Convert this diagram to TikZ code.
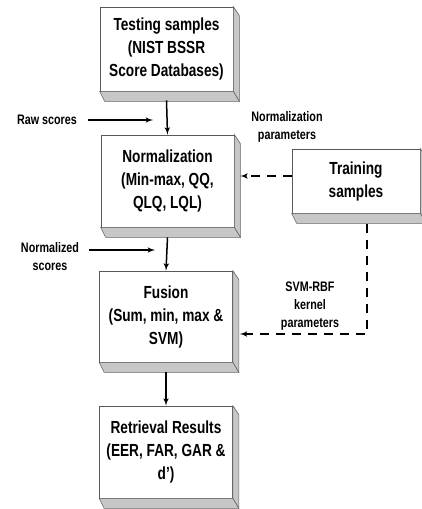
\documentclass[tikz,border=0pt]{standalone}
\usepackage{fontspec}
\setmainfont{Liberation Sans}[FakeStretch=0.78]
\usepackage{tikz}
\usetikzlibrary{arrows}

% grey side faces of a raised box
\newcommand{\boxbevel}[1]{%
  \filldraw[bevelface] (#1.north east) -- ++(6,9) -- ([shift={(6pt,-10pt)}]#1.south east)
                       -- (#1.south east) -- cycle;
  \filldraw[bevelface] (#1.south west) -- ([shift={(5pt,-10pt)}]#1.south west)
                       -- ([shift={(6pt,-10pt)}]#1.south east) -- (#1.south east) -- cycle;
}

\begin{document}
\begin{tikzpicture}[x=1pt,y=-1pt,>=latex',line width=1.5pt]
  \tikzstyle{block} = [rectangle, draw=black!65, line width=0.7pt, fill=white,
    minimum width=133pt, inner sep=0pt, align=center,
    font=\fontsize{17.5}{23}\selectfont\bfseries]
  \tikzstyle{bevelface} = [fill=black!22, draw=black!60, line width=0.6pt]
  \tikzstyle{note} = [align=center, inner sep=0pt,
    font=\fontsize{13.8}{18}\selectfont\bfseries]
  \tikzstyle{dasharrow} = [->, dash pattern=on 9pt off 7pt]
  \useasboundingbox (0,0) rectangle (422,509);

  \node[block, minimum height=84pt]  (test)  at (166.5,49)  {Testing samples\\(NIST BSSR\\Score Databases)};
  \node[block, minimum height=92pt]  (norm)  at (167.5,181) {Normalization\\(Min-max, QQ,\\QLQ, LQL)};
  \node[block, minimum height=91pt]  (fuse)  at (166,316.5) {Fusion\\(Sum, min, max \&\\SVM)};
  \node[block, minimum height=92pt]  (result) at (166,452)  {Retrieval Results\\(EER, FAR, GAR \&\\d’)};
  \node[block, minimum width=128pt, minimum height=64pt] (train) at (356,181) {Training\\samples};
  \boxbevel{test}
  \boxbevel{norm}
  \boxbevel{fuse}
  \boxbevel{result}
  \boxbevel{train}

  \node[note] (raw)    at (47,120)  {Raw scores};
  \node[note] (nscore) at (50,257)  {Normalized\\scores};
  \node[note] (nparam) at (287,127) {Normalization\\parameters};
  \node[note] (kparam) at (310,306) {SVM-RBF\\kernel\\parameters};

  \coordinate (rawend)    at (153,120);
  \coordinate (nstart)    at (89,250);
  \coordinate (nend)      at (155,250);
  \coordinate (svmcorner) at (367,334);

  \draw[->] ([yshift=-9pt]test.south) -- (norm.north);
  \draw[->] ([yshift=-10pt]norm.south) -- (fuse.north);
  \draw[->] ([yshift=-10pt]fuse.south) -- (result.north);
  \draw[->, shorten <=10pt] (raw.east) -- (rawend);
  \draw[->] (nstart) -- (nend);
  \draw[dasharrow] ([yshift=5pt]train.west) -- ([xshift=6pt,yshift=5pt]norm.east);
  \draw[dasharrow] ([shift={(11pt,-11pt)}]train.south) -- (svmcorner)
    -- ([xshift=7pt]fuse.east |- svmcorner);
\end{tikzpicture}
\end{document}
